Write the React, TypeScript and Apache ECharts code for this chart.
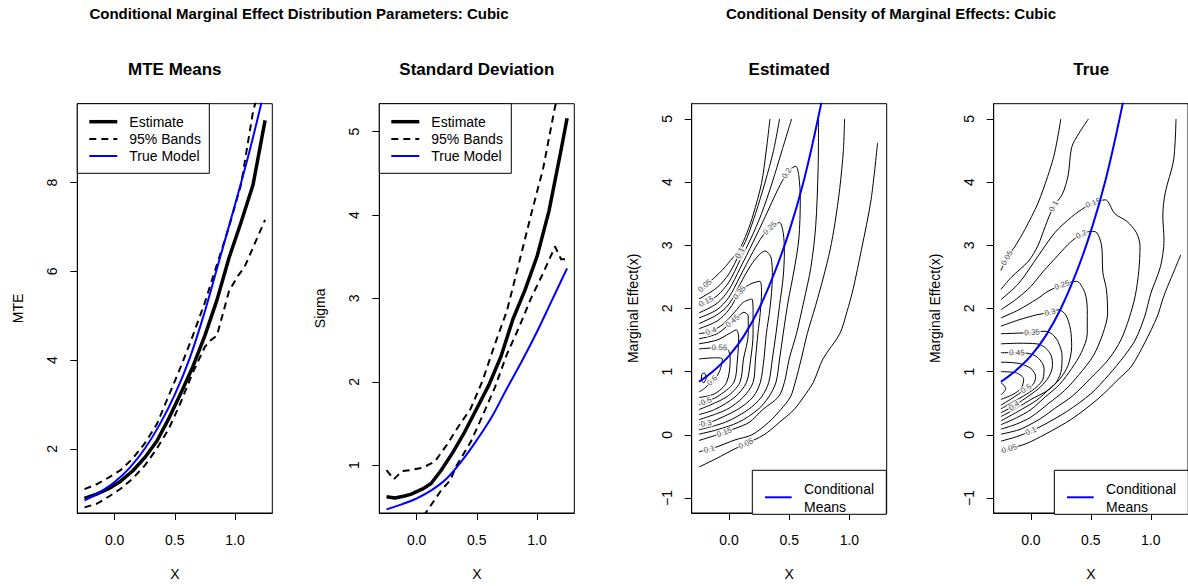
import React, { useEffect, useRef } from "react";
import * as echarts from "echarts";

const FONT = "'Liberation Sans', Arial, Helvetica, sans-serif";

// ---------- texts & ticks ----------
const outerTitles = [
  "Conditional Marginal Effect Distribution Parameters: Cubic",
  "Conditional Density of Marginal Effects: Cubic",
];
const panelTitles = ["MTE Means", "Standard Deviation", "Estimated", "True"];
const yNames = ["MTE", "Sigma", "Marginal Effect(x)", "Marginal Effect(x)"];
const legendTexts = ["Estimate", "95% Bands", "True Model"];
const contourLegendTexts = ["Conditional", "Means"];
const xTicks = [0, 0.5, 1];
const mteTicks = [2, 4, 6, 8];
const sigmaTicks = [1, 2, 3, 4, 5];
const effectTicks = [-1, 0, 1, 2, 3, 4, 5];

// ---------- panel 1 : MTE means ----------
const mteEstimate = [[-0.25,0.88],[-0.15,0.98],[-0.05,1.1],[0.05,1.27],[0.15,1.5],[0.25,1.8],[0.35,2.17],[0.45,2.68],[0.55,3.25],[0.65,3.85],[0.75,4.55],[0.85,5.35],[0.95,6.3],[1.05,7.1],[1.15,7.95],[1.25,9.4]];
const mteUpper = [[-0.25,1.09],[-0.15,1.2],[-0.05,1.35],[0.05,1.52],[0.15,1.78],[0.25,2.12],[0.35,2.55],[0.45,3.2],[0.55,3.85],[0.65,4.55],[0.75,5.3],[0.85,6.15],[0.95,7.0],[1.05,7.95],[1.15,9.6],[1.25,10.6]];
const mteLower = [[-0.25,0.68],[-0.15,0.76],[-0.05,0.92],[0.05,1.1],[0.15,1.33],[0.25,1.62],[0.35,2.0],[0.45,2.45],[0.55,3.05],[0.65,3.72],[0.75,4.3],[0.8,4.45],[0.85,4.55],[0.95,5.55],[1.02,5.88],[1.08,6.1],[1.25,7.16]];
const trueMean = [[-0.25,0.84],[-0.125,1.02],[0,1.25],[0.125,1.57],[0.25,2.0],[0.375,2.55],[0.5,3.22],[0.625,4.05],[0.75,5.1],[0.875,6.3],[1.0,7.5],[1.125,8.75],[1.25,10.15]];

// ---------- panel 2 : standard deviation ----------
const sigmaEstimate = [[-0.25,0.62],[-0.18,0.605],[-0.1,0.63],[-0.05,0.65],[0.05,0.715],[0.12,0.78],[0.2,0.93],[0.3,1.15],[0.4,1.4],[0.5,1.68],[0.6,1.96],[0.7,2.3],[0.8,2.75],[0.9,3.1],[1.0,3.5],[1.1,4.05],[1.2,4.78],[1.25,5.16]];
const sigmaUpper = [[-0.25,0.94],[-0.19,0.83],[-0.12,0.93],[-0.05,0.94],[0.05,0.97],[0.15,1.04],[0.25,1.24],[0.35,1.47],[0.45,1.68],[0.55,2.02],[0.65,2.45],[0.75,2.85],[0.85,3.42],[0.95,4.0],[1.05,4.55],[1.15,5.3],[1.25,5.8]];
const sigmaLower = [[0.0,0.27],[0.11,0.5],[0.2,0.69],[0.28,0.82],[0.33,0.99],[0.45,1.28],[0.55,1.6],[0.65,1.93],[0.75,2.33],[0.85,2.65],[0.95,3.0],[1.05,3.3],[1.15,3.62],[1.2,3.47],[1.25,3.47]];
const sigmaTrue = [[-0.25,0.47],[-0.125,0.53],[0,0.6],[0.125,0.7],[0.25,0.84],[0.375,1.05],[0.5,1.3],[0.625,1.58],[0.75,1.92],[0.875,2.25],[1.0,2.6],[1.125,2.98],[1.25,3.36]];

// ---------- panel 3 : estimated density contours ----------
const est005a = [[-0.25,2.28],[-0.2,2.36],[-0.12,2.49],[-0.05,2.62],[0.03,2.8],[0.09,2.95],[0.15,3.2],[0.2,3.48],[0.27,3.98],[0.31,4.51],[0.34,5.0]];
const est005b = [[-0.25,-0.51],[-0.11,-0.38],[0.05,-0.22],[0.14,-0.14],[0.29,0.0],[0.42,0.2],[0.54,0.4],[0.62,0.6],[0.7,0.83],[0.78,1.2],[0.92,1.6],[0.98,1.95],[1.03,2.3],[1.1,2.93],[1.18,3.72],[1.234,4.62]];
const est010a = [[-0.25,2.15],[-0.1,2.33],[0.0,2.55],[0.09,2.88],[0.15,3.12],[0.22,3.5],[0.3,4.0],[0.37,4.5],[0.42,5.0]];
const est010b = [[-0.25,-0.27],[-0.165,-0.225],[-0.1,-0.19],[0.05,-0.08],[0.19,0.0],[0.33,0.2],[0.43,0.4],[0.51,0.6],[0.55,0.83],[0.6,1.2],[0.65,1.6],[0.72,2.05],[0.785,2.5],[0.84,2.93],[0.88,3.35],[0.92,3.9],[0.95,4.5],[0.96,5.0]];
const est015a = [[-0.25,2.05],[-0.19,2.11],[-0.1,2.2],[0.0,2.42],[0.09,2.76],[0.18,3.1],[0.27,3.5],[0.36,4.0],[0.44,4.5],[0.52,5.0]];
const est015b = [[-0.25,-0.09],[-0.1,0.0],[-0.04,0.04],[0.05,0.1],[0.17,0.2],[0.28,0.4],[0.41,0.6],[0.46,0.83],[0.5,1.2],[0.56,1.6],[0.62,2.1],[0.68,2.65],[0.72,3.3],[0.74,4.2],[0.744,5.0]];
const est020 = [[-0.25,1.93],[-0.1,2.08],[0.0,2.3],[0.09,2.63],[0.2,3.05],[0.3,3.45],[0.41,3.9],[0.48,4.14],[0.52,4.22],[0.555,4.25],[0.58,4.1],[0.592,3.72],[0.58,3.1],[0.54,2.6],[0.49,2.1],[0.45,1.6],[0.42,1.2],[0.39,0.83],[0.33,0.6],[0.24,0.4],[0.08,0.2],[-0.1,0.08],[-0.25,0.01]];
const est025 = [[-0.25,1.85],[-0.1,1.98],[0.0,2.18],[0.09,2.5],[0.2,2.9],[0.28,3.15],[0.34,3.27],[0.38,3.33],[0.42,3.36],[0.45,3.2],[0.46,2.9],[0.45,2.5],[0.42,2.05],[0.39,1.6],[0.36,1.2],[0.33,0.83],[0.27,0.6],[0.16,0.4],[-0.03,0.2],[-0.25,0.08]];
const est030 = [[-0.25,1.76],[-0.1,1.9],[0.0,2.07],[0.09,2.38],[0.18,2.68],[0.25,2.85],[0.3,2.91],[0.35,2.8],[0.36,2.5],[0.34,2.0],[0.31,1.6],[0.29,1.2],[0.26,0.83],[0.2,0.6],[0.07,0.4],[-0.15,0.2],[-0.19,0.18],[-0.25,0.16]];
const est035 = [[-0.25,1.68],[-0.1,1.8],[0.0,1.98],[0.087,2.25],[0.17,2.38],[0.256,2.43],[0.27,2.26],[0.26,1.94],[0.24,1.6],[0.22,1.2],[0.2,0.83],[0.12,0.6],[-0.02,0.4],[-0.25,0.24]];
const est040 = [[-0.25,1.6],[-0.15,1.64],[-0.05,1.75],[0.05,1.95],[0.12,2.1],[0.19,2.15],[0.2,1.9],[0.2,1.6],[0.18,1.2],[0.145,0.83],[0.05,0.6],[-0.12,0.4],[-0.25,0.32]];
const est045 = [[-0.25,1.52],[-0.1,1.6],[0.03,1.8],[0.09,1.9],[0.124,1.94],[0.16,1.88],[0.16,1.6],[0.12,1.2],[0.09,0.83],[-0.02,0.6],[-0.25,0.4]];
const est050 = [[-0.25,1.44],[-0.1,1.5],[0.0,1.6],[0.06,1.66],[0.08,1.55],[0.07,1.2],[0.04,0.83],[-0.1,0.6],[-0.19,0.53],[-0.25,0.48]];
const est055 = [[-0.25,1.36],[-0.08,1.38],[-0.01,1.35],[0.01,1.2],[-0.02,0.83],[-0.12,0.65],[-0.25,0.59]];
const est060 = [[-0.25,1.2],[-0.12,1.22],[-0.055,1.2],[-0.07,1.05],[-0.1,0.93],[-0.14,0.86],[-0.2,0.74],[-0.25,0.68]];
const est065 = [[-0.21,0.82],[-0.19,0.9],[-0.205,0.98],[-0.225,0.96],[-0.23,0.87],[-0.21,0.82]];

// ---------- panel 4 : true density contours ----------
const tru005a = [[-0.25,2.6],[-0.2,2.8],[-0.13,2.99],[-0.05,3.25],[0.06,3.67],[0.14,4.09],[0.19,4.4],[0.22,4.67],[0.25,5.0]];
const tru005b = [[1.25,2.85],[1.2,2.62],[1.14,2.35],[1.1,2.15],[1.055,1.88],[0.95,1.46],[0.84,1.09],[0.73,0.88],[0.56,0.57],[0.34,0.25],[0.12,0.01],[-0.04,-0.14],[-0.18,-0.22],[-0.25,-0.26]];
const tru010a = [[-0.25,2.3],[-0.16,2.5],[-0.02,2.75],[0.06,3.0],[0.12,3.3],[0.19,3.62],[0.26,3.8],[0.31,4.1],[0.34,4.55],[0.4,4.77],[0.48,5.0]];
const tru010b = [[1.21,5.0],[1.19,4.35],[1.12,3.83],[1.1,3.46],[1.11,3.08],[1.08,2.66],[1.0,2.24],[0.95,1.88],[0.87,1.5],[0.78,1.25],[0.65,0.95],[0.5,0.65],[0.3,0.37],[0.1,0.15],[0.0,0.06],[-0.12,-0.03],[-0.25,-0.1]];
const tru015 = [[-0.25,2.14],[-0.1,2.4],[0.06,2.83],[0.2,3.2],[0.34,3.45],[0.45,3.6],[0.52,3.67],[0.62,3.72],[0.7,3.5],[0.8,3.38],[0.88,3.2],[0.91,2.98],[0.9,2.6],[0.87,2.2],[0.82,1.85],[0.75,1.5],[0.65,1.2],[0.5,0.9],[0.35,0.62],[0.2,0.42],[0.1,0.28],[0.0,0.17],[-0.1,0.08],[-0.25,0.01]];
const tru020 = [[-0.25,1.98],[-0.12,2.15],[0.0,2.35],[0.1,2.58],[0.23,2.85],[0.33,3.05],[0.42,3.17],[0.5,3.22],[0.55,3.2],[0.59,2.99],[0.6,2.57],[0.63,2.3],[0.64,1.93],[0.6,1.6],[0.52,1.25],[0.4,0.95],[0.28,0.7],[0.15,0.5],[0.0,0.28],[-0.12,0.17],[-0.25,0.09]];
const tru025 = [[-0.25,1.85],[-0.1,1.98],[0.05,2.15],[0.15,2.28],[0.26,2.37],[0.38,2.43],[0.45,2.25],[0.47,1.98],[0.47,1.6],[0.42,1.3],[0.34,1.05],[0.24,0.8],[0.12,0.6],[0.0,0.4],[-0.12,0.27],[-0.25,0.16]];
const tru030 = [[-0.25,1.72],[-0.1,1.82],[0.05,1.9],[0.16,1.94],[0.23,1.98],[0.29,1.9],[0.33,1.67],[0.34,1.4],[0.31,1.1],[0.24,0.88],[0.15,0.72],[0.05,0.55],[-0.08,0.4],[-0.25,0.22]];
const tru035 = [[-0.25,1.6],[-0.1,1.61],[0.01,1.62],[0.11,1.64],[0.18,1.59],[0.23,1.46],[0.26,1.25],[0.25,0.99],[0.2,0.8],[0.12,0.68],[0.0,0.56],[-0.12,0.42],[-0.25,0.29]];
const tru040 = [[-0.25,1.44],[-0.1,1.45],[0.05,1.44],[0.12,1.38],[0.17,1.25],[0.18,1.1],[0.15,0.92],[0.08,0.76],[0.0,0.64],[-0.14,0.46],[-0.25,0.35]];
const tru045 = [[-0.25,1.3],[-0.116,1.3],[0.0,1.28],[0.07,1.2],[0.11,1.05],[0.1,0.88],[0.05,0.76],[-0.04,0.64],[-0.15,0.52],[-0.25,0.41]];
const tru050 = [[-0.25,1.15],[-0.1,1.13],[0.0,1.05],[0.04,0.92],[0.02,0.8],[-0.04,0.73],[-0.1,0.65],[-0.18,0.55],[-0.25,0.47]];
const tru055 = [[-0.25,1.0],[-0.12,0.98],[-0.06,0.88],[-0.08,0.74],[-0.15,0.64],[-0.25,0.56]];
const tru060 = [[-0.25,0.83],[-0.21,0.73],[-0.25,0.63]];

const estContours = [est005a, est005b, est010a, est010b, est015a, est015b, est020, est025, est030, est035, est040, est045, est050, est055, est060, est065];
const truContours = [tru005a, tru005b, tru010a, tru010b, tru015, tru020, tru025, tru030, tru035, tru040, tru045, tru050, tru055, tru060];

// label: contour path, vertex index, text
const estLabels: [number[][], number, string][] = [
  [est005a, 1, "0.05"], [est005b, 3, "0.05"], [est010a, 3, "0.1"], [est010b, 1, "0.1"],
  [est015a, 1, "0.15"], [est015b, 2, "0.15"], [est020, 7, "0.2"], [est025, 6, "0.25"],
  [est030, 16, "0.3"], [est035, 3, "0.35"], [est040, 1, "0.4"], [est045, 2, "0.45"],
  [est050, 8, "0.5"], [est055, 1, "0.55"], [est060, 5, "0.6"],
];
const truLabels: [number[][], number, string][] = [
  [tru005a, 1, "0.05"], [tru005b, 12, "0.05"], [tru010a, 5, "0.1"], [tru010b, 14, "0.1"],
  [tru015, 6, "0.15"], [tru020, 6, "0.2"], [tru025, 4, "0.25"], [tru030, 3, "0.3"],
  [tru035, 2, "0.35"], [tru040, 9, "0.4"], [tru045, 1, "0.45"], [tru050, 5, "0.5"],
];

// ---------- layout ----------
const GRID_LEFT = [77.3, 379.3, 691.7, 993.7];
const GRID_TOP = 103.7;
const GRID_W = 195;
const GRID_H = 410.6;
const X_MIN = -0.31;
const X_MAX = 1.31;
const Y_RANGES = [[0.553, 9.777], [0.426, 5.335], [-1.237, 5.241], [-1.237, 5.241]];
const Y_TICKS = [mteTicks, sigmaTicks, effectTicks, effectTicks];

function labelRotation(path: number[][], i: number, gi: number) {
  const a = path[Math.max(0, i - 1)];
  const b = path[Math.min(path.length - 1, i + 1)];
  const sx = GRID_W / (X_MAX - X_MIN);
  const sy = GRID_H / (Y_RANGES[gi][1] - Y_RANGES[gi][0]);
  let deg = (Math.atan2((b[1] - a[1]) * sy, (b[0] - a[0]) * sx) * 180) / Math.PI;
  if (deg > 90) deg -= 180;
  if (deg < -90) deg += 180;
  return deg;
}

function buildOption() {
  const series: any[] = [];
  const addLine = (gi: number, data: number[][], color: string, width: number, type: any, smooth: any, z: number) => {
    series.push({
      type: "line", xAxisIndex: gi, yAxisIndex: gi, data, symbol: "none", showSymbol: false,
      smooth, clip: true, silent: true, z, animation: false,
      lineStyle: { color, width, type, cap: "butt", join: "round" },
    });
  };
  const dash = [7, 5];
  // panel 1
  addLine(0, mteUpper, "#000", 2, dash, false, 2);
  addLine(0, mteLower, "#000", 2, dash, false, 2);
  addLine(0, mteEstimate, "#000", 3.5, "solid", false, 3);
  addLine(0, trueMean, "#0000ff", 2, "solid", 0.4, 4);
  // panel 2
  addLine(1, sigmaUpper, "#000", 2, dash, false, 2);
  addLine(1, sigmaLower, "#000", 2, dash, false, 2);
  addLine(1, sigmaEstimate, "#000", 3.5, "solid", false, 3);
  addLine(1, sigmaTrue, "#0000ff", 2, "solid", 0.4, 4);
  // contour panels
  const contourPanel = (gi: number, paths: number[][][], labels: [number[][], number, string][]) => {
    paths.forEach((p) => addLine(gi, p, "#000", 1, "solid", 0.3, 2));
    series.push({
      type: "scatter", xAxisIndex: gi, yAxisIndex: gi, symbol: "circle", symbolSize: 1, silent: true, z: 3,
      itemStyle: { color: "rgba(0,0,0,0)" },
      label: {
        show: true, position: "inside", fontSize: 8, color: "#222", fontFamily: FONT,
        backgroundColor: "#fff", padding: [0, 1],
      },
      data: labels.map(([p, i, t]) => ({
        value: p[i],
        label: { formatter: t, rotate: labelRotation(p, i, gi) },
      })),
    });
    addLine(gi, trueMean, "#0000ff", 2, "solid", 0.4, 4);
  };
  contourPanel(2, estContours, estLabels);
  contourPanel(3, truContours, truLabels);

  const grids = GRID_LEFT.map((l) => ({
    left: l, top: GRID_TOP, width: GRID_W, height: GRID_H, show: true,
    borderColor: "#000", borderWidth: 1, backgroundColor: "rgba(0,0,0,0)", containLabel: false,
  }));
  const xAxes = GRID_LEFT.map((_, i) => ({
    type: "value", gridIndex: i, min: X_MIN, max: X_MAX, position: "bottom",
    name: "X", nameLocation: "middle", nameGap: 54,
    nameTextStyle: { fontSize: 14, color: "#000", fontFamily: FONT },
    axisLine: { show: true, onZero: false, lineStyle: { color: "#000", width: 1 } },
    axisTick: { show: true, inside: false, length: 7, lineStyle: { color: "#000", width: 1 }, customValues: xTicks },
    axisLabel: {
      show: true, customValues: xTicks, formatter: (v: number) => Number(v).toFixed(1),
      fontSize: 14, color: "#000", fontFamily: FONT, margin: 20,
    },
    splitLine: { show: false },
  }));
  const yAxes = GRID_LEFT.map((_, i) => ({
    type: "value", gridIndex: i, min: Y_RANGES[i][0], max: Y_RANGES[i][1], position: "left",
    name: yNames[i], nameLocation: "middle", nameGap: 52, nameRotate: 90,
    nameTextStyle: { fontSize: 14, color: "#000", fontFamily: FONT },
    axisLine: { show: true, onZero: false, lineStyle: { color: "#000", width: 1 } },
    axisTick: { show: true, inside: false, length: 7, lineStyle: { color: "#000", width: 1 }, customValues: Y_TICKS[i] },
    axisLabel: {
      show: true, customValues: Y_TICKS[i], rotate: 90,
      formatter: (v: number) => (v < 0 ? "\u2212" + Math.abs(v) : String(v)),
      fontSize: 14, color: "#000", fontFamily: FONT, margin: 18,
    },
    splitLine: { show: false },
  }));

  const txt = (x: number, y: number, text: string, font: string, align = "center") => ({
    type: "text", x, y, z: 10, silent: true,
    style: { text, font, fill: "#000", align, verticalAlign: "middle", textAlign: align, textVerticalAlign: "middle" },
  });
  const graphics: any[] = [];
  graphics.push(txt(299, 13, outerTitles[0], `bold 15px ${FONT}`));
  graphics.push(txt(891, 13, outerTitles[1], `bold 15px ${FONT}`));
  GRID_LEFT.forEach((l, i) => graphics.push(txt(l + GRID_W / 2, 69, panelTitles[i], `bold 17px ${FONT}`)));

  // legends for panels 1 & 2
  [GRID_LEFT[0], GRID_LEFT[1]].forEach((ox) => {
    graphics.push({ type: "rect", z: 9, silent: true, shape: { x: ox, y: GRID_TOP, width: 132, height: 69.6 }, style: { fill: "#fff", stroke: "#000", lineWidth: 1 } });
    const ys = [121.7, 139, 156];
    graphics.push({ type: "line", z: 10, silent: true, shape: { x1: ox + 12, y1: ys[0], x2: ox + 40, y2: ys[0] }, style: { stroke: "#000", lineWidth: 3.5 } });
    graphics.push({ type: "line", z: 10, silent: true, shape: { x1: ox + 12, y1: ys[1], x2: ox + 40, y2: ys[1] }, style: { stroke: "#000", lineWidth: 2, lineDash: [7, 5] } });
    graphics.push({ type: "line", z: 10, silent: true, shape: { x1: ox + 12, y1: ys[2], x2: ox + 40, y2: ys[2] }, style: { stroke: "#0000ff", lineWidth: 2 } });
    legendTexts.forEach((t, k) => graphics.push(txt(ox + 52, ys[k], t, `14px ${FONT}`, "left")));
  });
  // legends for contour panels
  [GRID_LEFT[2], GRID_LEFT[3]].forEach((gl) => {
    const ox = gl + 60.6;
    graphics.push({ type: "rect", z: 9, silent: true, shape: { x: ox, y: 470.3, width: 134, height: 44 }, style: { fill: "#fff", stroke: "#000", lineWidth: 1 } });
    graphics.push({ type: "line", z: 10, silent: true, shape: { x1: ox + 12.7, y1: 497.3, x2: ox + 39.4, y2: 497.3 }, style: { stroke: "#0000ff", lineWidth: 2 } });
    graphics.push(txt(ox + 51.7, 489.3, contourLegendTexts[0], `14px ${FONT}`, "left"));
    graphics.push(txt(ox + 51.7, 506.7, contourLegendTexts[1], `14px ${FONT}`, "left"));
  });

  return {
    animation: false,
    backgroundColor: "#fff",
    grid: grids,
    xAxis: xAxes,
    yAxis: yAxes,
    series,
    graphic: { elements: graphics },
  };
}

export default function App() {
  const ref = useRef<HTMLDivElement>(null);
  useEffect(() => {
    const chart = echarts.init(ref.current as HTMLDivElement, null, { renderer: "svg" });
    chart.setOption(buildOption() as any);
    return () => chart.dispose();
  }, []);
  return (
    <div
      ref={ref}
      style={{ position: "fixed", left: 0, top: 0, width: 1188, height: 586, background: "#fff" }}
    />
  );
}
